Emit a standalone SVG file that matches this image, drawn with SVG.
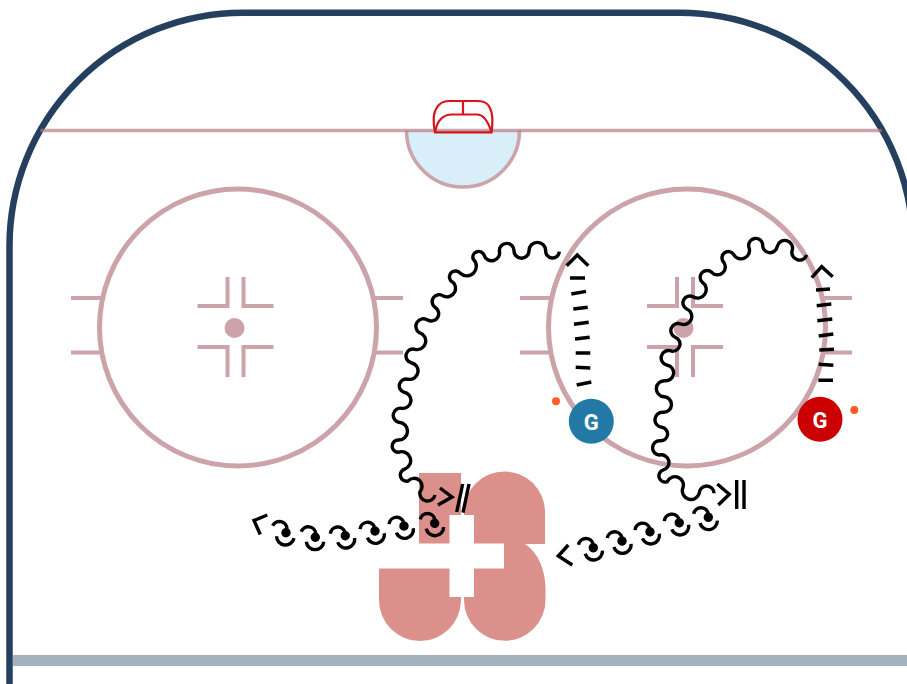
<svg xmlns="http://www.w3.org/2000/svg" width="907" height="684" viewBox="0 0 907 684">
<style>
.m{fill:none;stroke:#cba3a9;stroke-width:4}
.c{fill:none;stroke:#cba3a9;stroke-width:5}
.d{fill:#cba3a9}
.k{fill:none;stroke:#000;stroke-width:3.4}
.g{fill:none;stroke:#d7141a;stroke-width:2.2}
.r{fill:#dc908b}
.t{font-family:Roboto,"Liberation Sans",sans-serif;font-weight:700;font-size:22px;fill:#fff;text-anchor:middle}
</style>
<defs>
<g id="u" class="k">
<path d="M-14,-5.500 A7.500,7.500 0 0 1 0.500,-4"/>
<path d="M-9,4.500 A8.800,8.800 0 0 0 8.500,4.500"/>
<circle cx="0" cy="0" r="4.700" fill="#000" stroke="none"/>
</g>
<g id="f">
<path class="m" d="M-8,-50 V-21 H-38 M8,-50 V-21 H38 M-8,50 V20 H-38 M8,50 V20 H38"/>
</g>
</defs>
<rect width="907" height="684" fill="#fff"/>
<g id="rink">
<path d="M9.5,684 V246 A233.500,233.300 0 0 1 243,12.700 H679.500 A233.500,233.300 0 0 1 913,246 V684" fill="none" stroke="#25405e" stroke-width="6.500"/>
<path d="M406.500,130.500 A56.500,56.500 0 0 0 519.500,130.500 Z" fill="#d8eef9"/>
<path d="M406.500,130.500 A56.500,56.500 0 0 0 519.500,130.500" fill="none" stroke="#cba3a9" stroke-width="3.500"/>
<path d="M40.500,130.500 H881.500" fill="none" stroke="#b57c84" stroke-opacity=".7" stroke-width="3.500"/>
<rect x="13" y="655" width="894" height="11" fill="#a4b0bc"/>
</g>
<g id="goal">
<path class="g" d="M435,132.300 C433,122 433,114 436,109 C439,103 444,101 449,101 H478 C484,101 488,103 490,108 C493,114 493,122 491.500,132.300 Z"/>
<path class="g" d="M435,132.300 C437,121 443,114.500 452,114.500 H477 C484,114.500 488,121 491.500,132.300 M463,101 V114.500"/>
</g>
<g id="circle-left">
<circle class="c" cx="238" cy="327.500" r="138.500"/>
<path class="m" d="M71,298 H102 M71,352.500 H102 M373,298 H403 M373,352.500 H403"/>
<use href="#f" x="235.500" y="327"/>
<circle class="d" cx="234.500" cy="328" r="10"/>
</g>
<g id="circle-right">
<circle class="c" cx="687" cy="327.500" r="138.500"/>
<path class="m" d="M520,298 H551 M520,352.500 H551 M821,298 H852 M821,352.500 H852"/>
<use href="#f" x="685" y="327"/>
<circle class="d" cx="683.500" cy="328" r="10"/>
</g>
<g id="center-mark">
<path class="r" d="M419,473 H461 V544 H419 Z"/>
<path class="r" d="M464,512 A40.500,40.500 0 0 1 545,512 V544 H464 Z"/>
<path class="r" d="M379,568 H461 V600 A41,41 0 0 1 379,600 Z"/>
<path class="r" d="M464,543 H523 C535,549 545.500,566 545.500,590 V600 A40.750,40.750 0 0 1 464,600 Z"/>
<path fill="#fff" d="M449.500,515 H474 V543.500 H504 V568.500 H474 V597 H449.500 V568.500 H379 V543.500 H449.500 Z"/>
</g>
<g id="connectors">
<path class="k" d="M559.300,251.700 A1,1 0 0 1 545.700,250.700 A1,1 0 0 0 529,250.700 A1,1 0 0 1 514,250.700 A1,1 0 0 0 499.300,250.700 A1,1 0 0 1 484,255 A1,1 0 0 0 473.300,259.300 A1,1 0 0 1 460.300,273.300 A1,1 0 0 0 450.700,280.700 A1,1 0 0 1 443.300,296 A1,1 0 0 0 435,307.300 A1,1 0 0 1 427.700,320 A1,1 0 0 0 419.300,332.700 A1,1 0 0 1 415,349.300 A1,1 0 0 0 411,362.700 A1,1 0 0 1 408.300,379.300 A1,1 0 0 0 404,392.300 A1,1 0 0 1 401.700,408.300 A1,1 0 0 0 399,422.300 A1,1 0 0 1 398.300,440 A1,1 0 0 0 398.300,452.300 A1,1 0 0 1 405,469 A1,1 0 0 0 408,481 A1,1 0 0 1 420,491.700 A1,1 0 0 0 435,495"/>
<path class="k" d="M440,488 L452,497 L438,505 M462.700,484 L456.700,512 M469,484 L463,512.700"/>
<path class="k" d="M806.700,255 A1,1 0 0 1 792.300,250 A1,1 0 0 0 777.300,246.300 A1,1 0 0 1 762.700,244.300 A1,1 0 0 0 748.700,246.700 A1,1 0 0 1 733.300,254 A1,1 0 0 0 723.300,261.700 A1,1 0 0 1 711.700,272.300 A1,1 0 0 0 702.300,282.300 A1,1 0 0 1 693,296.700 A1,1 0 0 0 686.700,309 A1,1 0 0 1 680.700,324 A1,1 0 0 0 675.300,337.300 A1,1 0 0 1 670.300,350.700 A1,1 0 0 0 666.700,365 A1,1 0 0 1 664.700,380.700 A1,1 0 0 0 664,396.700 A1,1 0 0 1 663.300,412.300 A1,1 0 0 0 661.700,427.300 A1,1 0 0 1 660,440.700 A1,1 0 0 0 659.500,455 A1,1 0 0 1 663,470 A1,1 0 0 0 667.300,481.700 A1,1 0 0 1 682.700,488.300 A1,1 0 0 0 699.300,493.300 A1,1 0 0 1 714,493.300"/>
<path class="k" d="M717.300,484 L729.300,494.300 L718.300,505 M736.700,480 V509 M744,480 V509"/>
<path class="k" d="M566.700,265.700 L577.300,255 L588.300,265.700 M570,278 H585 M571.300,294 L586,291.300 M573.300,309 L587.700,307.300 M574,324.300 L588.700,322.300 M575,339 L589.700,337.300 M575.700,353 H590.300 M575.700,367.300 L590.300,368 M576.700,385 L591.300,382"/>
<path class="k" d="M811.700,277.700 L821.700,266.700 L832.700,276.700 M816,290 L830,289 M816.700,305.700 L831.300,304 M817.300,320.700 L832.300,319 M818.700,336 L833.300,334 M819.300,350 L834,349.300 M818.700,364.300 L833.300,365.300 M818.300,380.300 H833"/>
<path class="k" d="M267.300,515 L254,520.500 L260.300,534.500"/>
<use href="#u" transform="translate(286,532.700) rotate(6)"/>
<use href="#u" transform="translate(315.300,537.300)"/>
<use href="#u" transform="translate(345.300,535.700) rotate(-14)"/>
<use href="#u" transform="translate(375,531) rotate(-14)"/>
<use href="#u" transform="translate(404,526) rotate(-14)"/>
<use href="#u" transform="translate(434.700,523.300) rotate(-6)"/>
<path class="k" d="M568.300,545 L558.300,556 L572.300,565"/>
<use href="#u" transform="translate(593.300,547.700) rotate(-10)"/>
<use href="#u" transform="translate(622,541) rotate(-10)"/>
<use href="#u" transform="translate(650,531.700) rotate(-15)"/>
<use href="#u" transform="translate(679.300,522.700) rotate(-15)"/>
<use href="#u" transform="translate(708.300,517.300) rotate(-8)"/>
</g>
<g id="goalie-blue">
<circle cx="591.300" cy="421.300" r="22.500" fill="#2279a6"/>
<text class="t" x="591.300" y="429.500">G</text>
</g>
<g id="goalie-red">
<circle cx="820" cy="419.300" r="22.500" fill="#cc0000"/>
<text class="t" x="820" y="427.500">G</text>
</g>
<g id="puck-left"><circle cx="556" cy="401.300" r="4" fill="#ff5c26"/></g>
<g id="puck-right"><circle cx="854.300" cy="410" r="4" fill="#ff5c26"/></g>
</svg>
